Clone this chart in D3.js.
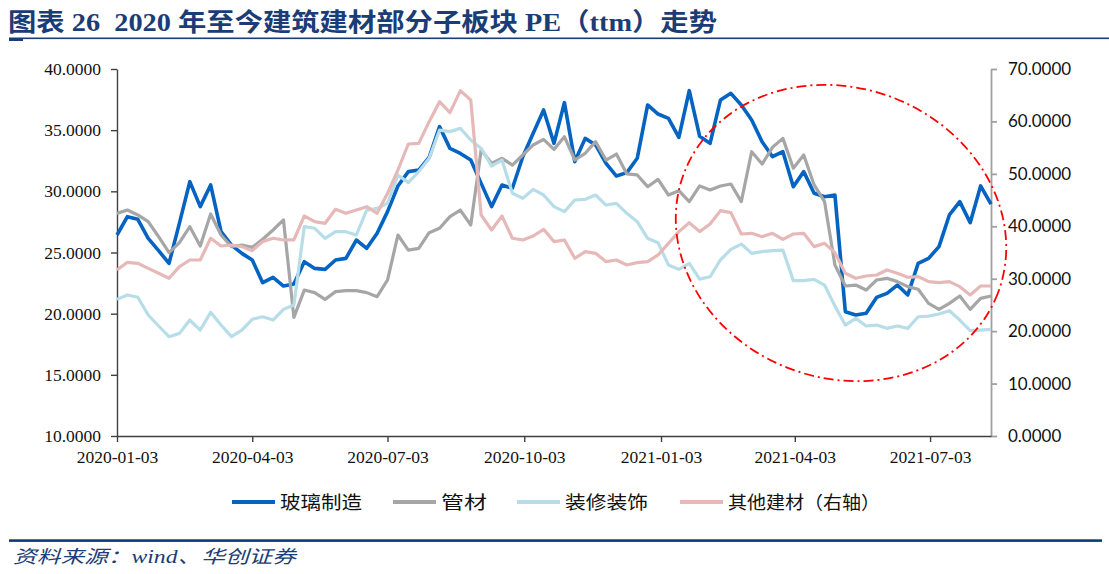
<!DOCTYPE html>
<html>
<head>
<meta charset="utf-8">
<script src="https://cdn.jsdelivr.net/npm/d3@7"></script>
<style>
    body { margin: 0; background: #ffffff; }
    svg { display: block; }
</style>
</head>
<body>
<div id="chart-area"></div>
<script>

// weekly PE (ttm), first point 2020-01-03
const startDate = "2020-01-03";

const glass = [
    26.43, 27.93, 27.71, 26.16, 25.15, 24.11, 27.40, 30.79, 28.75, 30.52,
    26.70, 25.60, 24.93, 24.39, 22.53, 22.97, 22.26, 22.42, 24.25, 23.70,
    23.62, 24.39, 24.52, 26.02, 25.34, 26.57, 28.34, 30.44, 31.61, 31.74,
    32.78, 35.29, 33.51, 33.10, 32.56, 30.65, 28.75, 30.52, 30.25, 32.83,
    34.74, 36.65, 33.92, 37.25, 32.43, 34.33, 33.79, 32.29, 31.25, 31.53,
    32.70, 37.06, 36.32, 35.97, 34.41, 38.23, 34.50, 33.92, 37.47, 38.01,
    37.06, 35.83, 34.06, 32.83, 33.24, 30.38, 31.61, 29.84, 29.56, 29.70,
    20.16, 19.89, 20.03, 21.33, 21.66, 22.34, 21.53, 24.11, 24.52, 25.48,
    28.07, 29.16, 27.44, 30.44, 28.96
];

const pipes = [
    28.20, 28.47, 28.07, 27.52, 26.29, 24.99, 25.80, 27.11, 25.53, 28.15,
    26.43, 25.48, 25.61, 25.42, 26.08, 26.84, 27.66, 19.70, 21.93, 21.72,
    21.17, 21.80, 21.88, 21.88, 21.72, 21.39, 22.75, 26.43, 25.20, 25.34,
    26.62, 26.98, 27.93, 28.47, 27.25, 33.38, 32.29, 32.70, 32.15, 32.97,
    33.79, 34.25, 33.43, 34.47, 32.56, 33.11, 34.06, 32.56, 33.05, 31.42,
    31.34, 30.38, 30.98, 29.70, 30.05, 29.16, 30.44, 30.11, 30.44, 30.60,
    29.16, 33.24, 32.23, 33.60, 34.33, 31.88, 32.97, 30.52, 29.16, 23.98,
    22.26, 22.34, 21.93, 22.75, 22.89, 22.62, 22.21, 21.99, 20.84, 20.35,
    20.84, 21.44, 20.35, 21.25, 21.44
];

const decor = [
    21.17, 21.53, 21.34, 19.89, 18.99, 18.12, 18.39, 19.48, 18.66, 20.11,
    19.07, 18.12, 18.66, 19.54, 19.75, 19.48, 20.35, 20.71, 27.11, 26.98,
    26.16, 26.70, 26.70, 26.43, 28.47, 28.61, 29.02, 31.34, 30.71, 31.61,
    32.70, 35.01, 34.88, 35.15, 34.20, 33.51, 32.07, 32.56, 29.84, 29.43,
    30.16, 29.70, 28.75, 28.34, 29.29, 29.35, 29.70, 28.88, 29.02, 28.20,
    27.52, 26.16, 25.80, 23.98, 23.62, 24.11, 22.82, 23.02, 24.39, 25.26,
    25.69, 24.93, 25.07, 25.15, 25.20, 22.70, 22.70, 22.81, 22.34, 20.63,
    19.07, 19.62, 18.99, 19.07, 18.80, 18.99, 18.80, 19.75, 19.80, 19.97,
    20.24, 19.48, 18.61, 18.66, 18.72
];

// right axis
const others = [
    31.67, 33.13, 32.94, 31.98, 31.03, 30.08, 32.30, 33.57, 33.57, 37.71,
    36.24, 36.43, 36.12, 35.35, 37.07, 37.71, 37.39, 37.39, 41.96, 40.88,
    40.57, 43.24, 42.47, 43.11, 43.74, 42.47, 46.29, 50.74, 55.70, 55.82,
    59.96, 63.77, 61.67, 65.87, 64.09, 42.15, 39.29, 41.96, 37.71, 37.39,
    38.15, 39.42, 37.07, 37.39, 33.89, 35.16, 34.84, 33.25, 33.57, 32.62,
    33.06, 33.25, 34.53, 36.75, 38.98, 40.69, 38.98, 40.44, 42.98, 42.60,
    38.53, 38.66, 38.02, 38.66, 37.51, 38.53, 38.66, 36.12, 36.75, 34.97,
    31.03, 30.08, 30.52, 30.71, 31.67, 31.03, 30.27, 30.39, 29.44, 29.25,
    29.44, 28.49, 26.90, 28.61, 28.61
];

const seriesNames = ["玻璃制造", "管材", "装修装饰", "其他建材（右轴）"];
const leftTicks = [10, 15, 20, 25, 30, 35, 40];
const rightTicks = [0, 10, 20, 30, 40, 50, 60, 70];
const dateTicks = ["2020-01-03", "2020-04-03", "2020-07-03", "2020-10-03", "2021-01-03", "2021-04-03", "2021-07-03"];

const titleText = "图表 26  2020 年至今建筑建材部分子板块 PE（ttm）走势";
const sourceText = "资料来源：wind、华创证券";


class PeVis {

    constructor(parentElement) {
        this.parentElement = parentElement;
        this.parseDate = d3.timeParse("%Y-%m-%d");
        this.initVis();
    }

    initVis() {
        let vis = this;

        vis.width = 1109;
        vis.height = 574;
        vis.plot = {left: 117, right: 991, top: 69, bottom: 436};

        vis.svg = d3.select("#" + vis.parentElement).append("svg")
            .attr("width", vis.width)
            .attr("height", vis.height);

        let navy = "#1b3d77";
        let serif = "'Liberation Serif', 'Noto Sans CJK SC', serif";

        // title + rules
        vis.svg.append("text")
            .attr("x", 8)
            .attr("y", 31)
            .attr("fill", navy)
            .attr("font-family", serif)
            .attr("font-weight", "bold")
            .attr("font-size", 25)
            .attr("textLength", 709)
            .attr("lengthAdjust", "spacingAndGlyphs")
            .style("white-space", "pre")
            .text(titleText);

        vis.svg.append("rect").attr("x", 9).attr("y", 37.5).attr("width", 1100).attr("height", 1.6).attr("fill", navy);
        vis.svg.append("rect").attr("x", 9).attr("y", 38.5).attr("width", 14).attr("height", 2.5).attr("fill", navy);
        vis.svg.append("rect").attr("x", 9).attr("y", 539.3).attr("width", 1093).attr("height", 2.6).attr("fill", "#0c3b78");

        vis.svg.append("text")
            .attr("x", 13)
            .attr("y", 563)
            .attr("fill", navy)
            .attr("font-family", serif)
            .attr("font-style", "italic")
            .attr("font-size", 18)
            .attr("textLength", 283)
            .attr("lengthAdjust", "spacingAndGlyphs")
            .text(sourceText);

        // scales
        vis.dates = glass.map((d, i) => d3.timeDay.offset(vis.parseDate(startDate), 7 * i));

        vis.x = d3.scaleTime()
            .domain([vis.dates[0], vis.dates[vis.dates.length - 1]])
            .range([vis.plot.left, vis.plot.right]);

        vis.yLeft = d3.scaleLinear()
            .domain([10, 40])
            .range([vis.plot.bottom, vis.plot.top]);

        vis.yRight = d3.scaleLinear()
            .domain([0, 70])
            .range([vis.plot.bottom, vis.plot.top]);

        // axes
        let leftAxis = vis.svg.append("g")
            .attr("class", "axis y-axis-left")
            .attr("transform", `translate(${vis.plot.left}, 0)`)
            .call(d3.axisLeft(vis.yLeft)
                .tickValues(leftTicks)
                .tickFormat(d3.format(".4f"))
                .tickSize(6)
                .tickSizeOuter(0)
                .tickPadding(10));

        let rightAxis = vis.svg.append("g")
            .attr("class", "axis y-axis-right")
            .attr("transform", `translate(${vis.plot.right}, 0)`)
            .call(d3.axisRight(vis.yRight)
                .tickValues(rightTicks)
                .tickFormat(d3.format(".4f"))
                .tickSize(6)
                .tickSizeOuter(0)
                .tickPadding(11));

        let bottomAxis = vis.svg.append("g")
            .attr("class", "axis x-axis")
            .attr("transform", `translate(0, ${vis.plot.bottom})`)
            .call(d3.axisBottom(vis.x)
                .tickValues(dateTicks.map(vis.parseDate))
                .tickFormat(d3.timeFormat("%Y-%m-%d"))
                .tickSize(6)
                .tickSizeOuter(0)
                .tickPadding(9));

        leftAxis.selectAll("path, line").attr("stroke", "#404040").attr("stroke-width", 1.4);
        bottomAxis.selectAll("path, line").attr("stroke", "#404040").attr("stroke-width", 1.4);
        rightAxis.selectAll("path, line").attr("stroke", "#a0a0a0").attr("stroke-width", 1.8);

        leftAxis.selectAll("text")
            .attr("fill", "#111")
            .attr("font-family", "'Liberation Serif', serif")
            .attr("font-size", 17.5);
        bottomAxis.selectAll("text")
            .attr("fill", "#111")
            .attr("font-family", "'Liberation Serif', serif")
            .attr("font-size", 17.5);
        rightAxis.selectAll("text")
            .attr("fill", "#111")
            .attr("font-family", "Lato, 'Open Sans', sans-serif")
            .attr("font-size", 17);

        // lines
        vis.series = [
            {name: seriesNames[0], values: glass, y: vis.yLeft, color: "#0563c1", width: 3.6},
            {name: seriesNames[1], values: pipes, y: vis.yLeft, color: "#a6a6a6", width: 3.2},
            {name: seriesNames[2], values: decor, y: vis.yLeft, color: "#b7dee8", width: 3.2},
            {name: seriesNames[3], values: others, y: vis.yRight, color: "#e6b9b8", width: 3.2}
        ];

        vis.svg.append("g")
            .attr("class", "lines")
            .selectAll("path")
            .data(vis.series)
            .enter()
            .append("path")
            .attr("fill", "none")
            .attr("stroke", d => d.color)
            .attr("stroke-width", d => d.width)
            .attr("stroke-linejoin", "round")
            .attr("d", d => d3.line()
                .x((v, i) => vis.x(vis.dates[i]))
                .y(v => d.y(v))(d.values));

        // highlight ring
        vis.svg.append("ellipse")
            .attr("cx", 841)
            .attr("cy", 233)
            .attr("rx", 168)
            .attr("ry", 145)
            .attr("transform", "rotate(21, 841, 233)")
            .attr("fill", "none")
            .attr("stroke", "#ff0000")
            .attr("stroke-width", 1.8)
            .attr("stroke-dasharray", "10,4,2,4");

        // legend
        let legendX = [232, 393, 517, 680];
        let legendW = [82, 46, 83, 152];
        let legend = vis.svg.append("g")
            .attr("class", "legend")
            .attr("transform", "translate(0, 502)");

        let items = legend.selectAll("g")
            .data(vis.series)
            .enter()
            .append("g")
            .attr("transform", (d, i) => `translate(${legendX[i]}, 0)`);

        items.append("line")
            .attr("x1", 0)
            .attr("x2", 43)
            .attr("stroke", d => d.color)
            .attr("stroke-width", d => d.width + 0.6);

        items.append("text")
            .attr("x", 48)
            .attr("y", 6.5)
            .attr("fill", "#111")
            .attr("font-family", "'Noto Sans CJK SC', sans-serif")
            .attr("font-size", 18)
            .attr("textLength", (d, i) => legendW[i])
            .attr("lengthAdjust", "spacingAndGlyphs")
            .text(d => d.name);
    }
}

new PeVis("chart-area");
</script>
</body>
</html>
